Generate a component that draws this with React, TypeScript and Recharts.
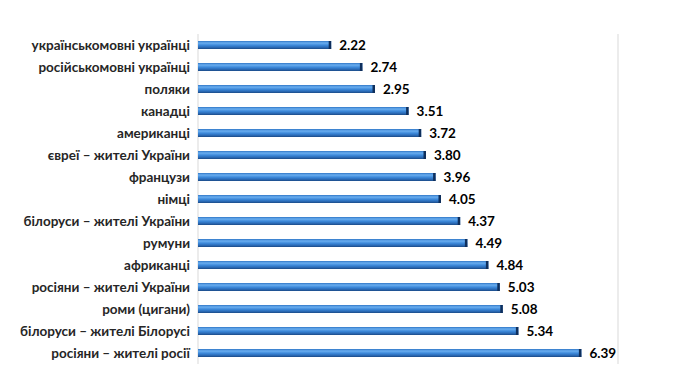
import { BarChart, Bar, XAxis, YAxis, CartesianGrid, LabelList } from "recharts";

const categories = [
    "українськомовні українці",
    "російськомовні українці",
    "поляки",
    "канадці",
    "американці",
    "євреї – жителі України",
    "французи",
    "німці",
    "білоруси – жителі України",
    "румуни",
    "африканці",
    "росіяни – жителі України",
    "роми (цигани)",
    "білоруси – жителі Білорусі",
    "росіяни – жителі росії",
];

const values = [2.22, 2.74, 2.95, 3.51, 3.72, 3.8, 3.96, 4.05, 4.37, 4.49, 4.84, 5.03, 5.08, 5.34, 6.39];

const xTicks = [0, 1, 2, 3, 4, 5, 6, 7];

const data = categories.map((name, i) => ({ name, value: values[i] }));

const font = "Lato, 'Open Sans', sans-serif";

function CylinderBar(props: any) {
    const { x, y, width, height } = props;
    if (!width || width <= 0) return null;
    return (
        <g>
            <rect x={x} y={y} width={width} height={height} fill="url(#barGrad)" />
            <rect x={x + width - 2.5} y={y} width={2.5} height={height} fill="#0f2f5c" />
        </g>
    );
}

export default function App() {
    return (
        <div style={{ position: "absolute", left: 0, top: 0, background: "#fff" }}>
            <BarChart
                width={690}
                height={387}
                data={data}
                layout="vertical"
                margin={{ top: 34, right: 72, left: 0, bottom: 23 }}
                barCategoryGap={0}
            >
                <defs>
                    <linearGradient id="barGrad" x1="0" y1="0" x2="0" y2="1">
                        <stop offset="0%" stopColor="#2f76c6" />
                        <stop offset="25%" stopColor="#6aaef0" />
                        <stop offset="55%" stopColor="#3b87d8" />
                        <stop offset="80%" stopColor="#2a69b4" />
                        <stop offset="100%" stopColor="#1a4a86" />
                    </linearGradient>
                </defs>
                <CartesianGrid horizontal={false} stroke="#d9d9d9" />
                <XAxis
                    type="number"
                    domain={[0, 7]}
                    ticks={xTicks}
                    tick={false}
                    axisLine={false}
                    tickLine={false}
                    height={0}
                />
                <YAxis
                    type="category"
                    dataKey="name"
                    width={198}
                    axisLine={false}
                    tickLine={false}
                    interval={0}
                    tick={{ fill: "#262626", fontSize: 13.5, fontWeight: 700, fontFamily: font }}
                />
                <Bar dataKey="value" barSize={8} shape={CylinderBar} isAnimationActive={false}>
                    <LabelList
                        dataKey="value"
                        position="right"
                        offset={8}
                        formatter={(v: any) => Number(v).toFixed(2)}
                        style={{ fill: "#000", fontSize: 13.5, fontWeight: 700, fontFamily: font }}
                    />
                </Bar>
            </BarChart>
        </div>
    );
}
